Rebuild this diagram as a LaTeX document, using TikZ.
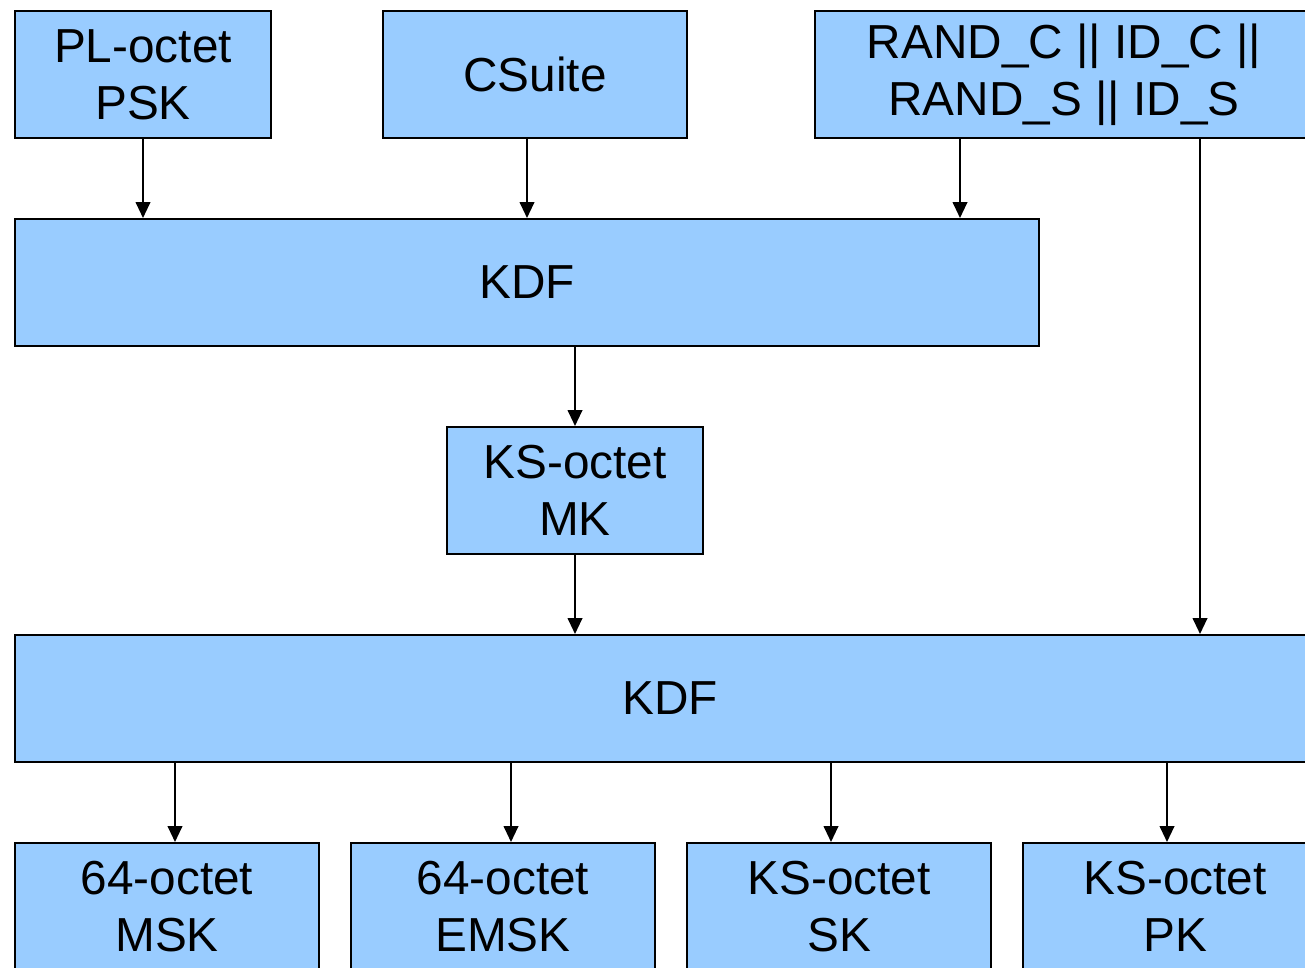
\documentclass[tikz,border=0pt]{standalone}
\usepackage{fontspec}
\setmainfont{Liberation Sans}
\usetikzlibrary{arrows.meta}
\definecolor{boxblue}{HTML}{99CCFF}
\tikzset{
  box/.style={draw=black, line width=1.5pt, fill=boxblue, anchor=north west,
    inner sep=0pt, align=center, minimum height=95.25pt,
    font=\fontsize{35.8}{43}\selectfont},
  arr/.style={draw=black, line width=1.5pt, -{Triangle[length=12pt,width=11pt]}}
}
\begin{document}
\begin{tikzpicture}[x=0.75pt, y=-0.75pt]
\useasboundingbox (0,0) rectangle (1305,967);
\clip (0,0) rectangle (1305,967);
% top row of inputs
\node[box, minimum width=192pt] (psk) at (14,10) {PL-octet\\PSK};
\node[box, minimum width=228pt] (cs) at (382,10) {CSuite};
\node[box, minimum width=373.5pt] (rnd) at (814,10) {RAND\_C || ID\_C ||\\RAND\_S || ID\_S};
% first derivation
\node[box, minimum width=768pt] (kdf1) at (14,218) {KDF};
\node[box, minimum width=192pt] (mk) at (446,426) {KS-octet\\MK};
% second derivation
\node[box, minimum width=982.5pt] (kdf2) at (14,634) {KDF};
% derived keys
\node[box, minimum width=228pt] (msk) at (14,842) {64-octet\\MSK};
\node[box, minimum width=228pt] (emsk) at (350,842) {64-octet\\EMSK};
\node[box, minimum width=228pt] (sk) at (686,842) {KS-octet\\SK};
\node[box, minimum width=228pt] (pk) at (1022,842) {KS-octet\\PK};
% connectors
\draw[arr] (psk.south) -- (psk.south |- kdf1.north);
\draw[arr] ([xshift=-6pt]cs.south) -- ([xshift=-6pt]cs.south |- kdf1.north);
\draw[arr] ([xshift=-78pt]rnd.south) -- ([xshift=-78pt]rnd.south |- kdf1.north);
\draw[arr] ([xshift=102pt]rnd.south) -- ([xshift=102pt]rnd.south |- kdf2.north);
\draw[arr] (mk.north |- kdf1.south) -- (mk.north);
\draw[arr] (mk.south) -- (mk.south |- kdf2.north);
\draw[arr] ([xshift=6pt]msk.north |- kdf2.south) -- ([xshift=6pt]msk.north);
\draw[arr] ([xshift=6pt]emsk.north |- kdf2.south) -- ([xshift=6pt]emsk.north);
\draw[arr] ([xshift=-6pt]sk.north |- kdf2.south) -- ([xshift=-6pt]sk.north);
\draw[arr] ([xshift=-6pt]pk.north |- kdf2.south) -- ([xshift=-6pt]pk.north);
\end{tikzpicture}
\end{document}
